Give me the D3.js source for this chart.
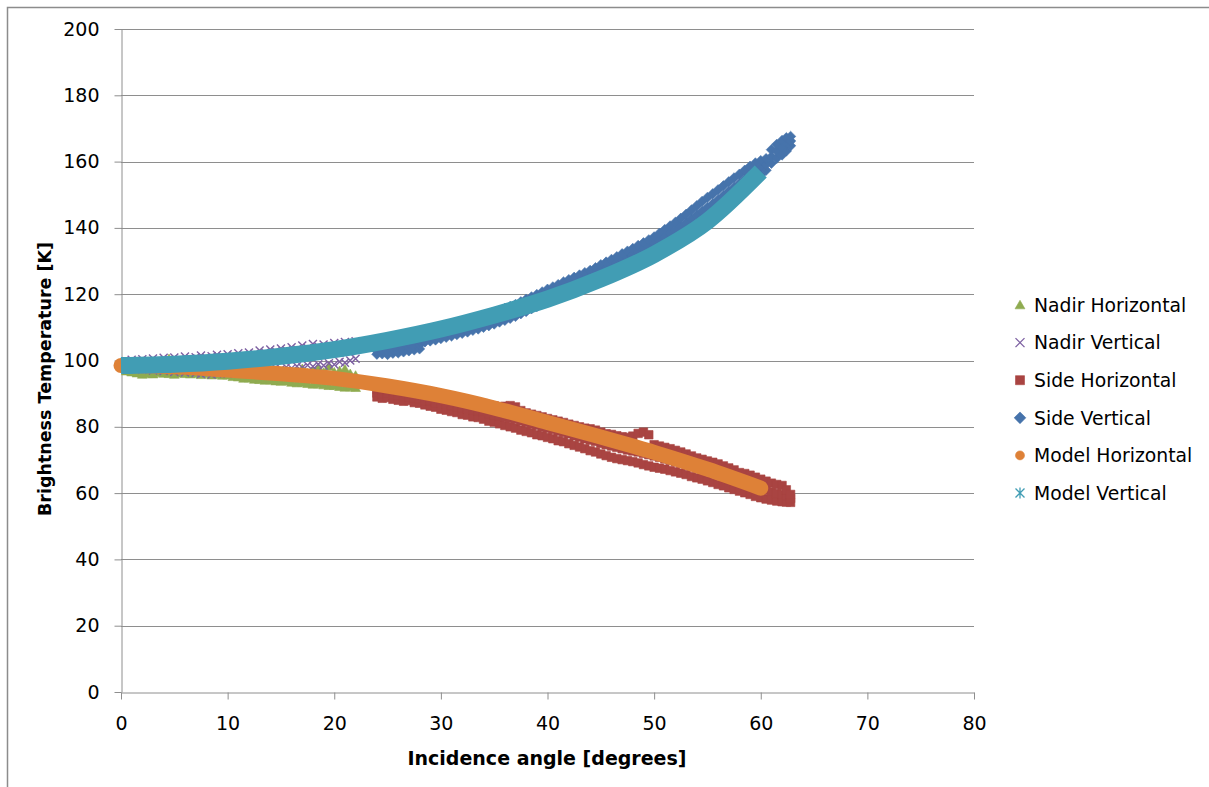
<!DOCTYPE html>
<html>
<head>
<meta charset="utf-8">
<script src="https://cdn.jsdelivr.net/npm/d3@7"></script>
<style>
  body { margin: 0; background: #fff; overflow: hidden; }
  svg { display: block; font-family: "DejaVu Sans", sans-serif; }
</style>
</head>
<body>
<svg width="1209" height="787"></svg>
<script>

var xTicks = [0, 10, 20, 30, 40, 50, 60, 70, 80];
var yTicks = [0, 20, 40, 60, 80, 100, 120, 140, 160, 180, 200];
var seriesNames = ["Nadir Horizontal", "Nadir Vertical", "Side Horizontal", "Side Vertical", "Model Horizontal", "Model Vertical"];
var xTitle = "Incidence angle  [degrees]";
var yTitle = "Brightness Temperature [K]";

// measured points, one row per angle: [angle, value, value, ...]
var nadirH = [
  [0.5, 96.8, 98.0], [1, 96.5, 97.8], [1.5, 96.2, 98.2], [2, 95.8, 97.5], [2.5, 96.0, 98.0],
  [3, 95.9, 97.6], [3.5, 96.3, 98.4], [4, 96.1, 99.0], [4.5, 96.0, 100.5], [5, 95.8, 99.2],
  [5.5, 96.2, 98.5], [6, 96.0, 99.8], [6.5, 95.9, 98.9], [7, 96.1, 98.2], [7.5, 95.7, 97.8],
  [8, 96.0, 98.5], [8.5, 95.6, 97.9], [9, 95.8, 97.6], [9.5, 95.5, 98.0], [10, 95.6, 97.4],
  [10.5, 95.1, 97.2], [11, 95.0, 97.5], [11.5, 94.6, 96.9], [12, 94.7, 97.1], [12.5, 94.3, 96.7],
  [13, 94.2, 96.8], [13.5, 94.0, 96.5], [14, 94.1, 96.3], [14.5, 93.8, 96.6], [15, 93.7, 96.2],
  [15.5, 93.8, 96.0], [16, 93.4, 96.4], [16.5, 93.2, 96.8], [17, 93.3, 97.5], [17.5, 93.0, 96.2],
  [18, 92.8, 97.0], [18.5, 92.9, 97.8], [19, 92.6, 96.4], [19.5, 92.4, 98.2], [20, 92.4, 96.5],
  [20.5, 92.1, 96.9], [21, 91.9, 97.4], [21.5, 92.0, 96.0], [22, 91.8, 95.5]
];

var nadirV = [
  [0.5, 98.0, 98.9, 99.8], [1, 97.5, 98.8, 100.2], [1.5, 97.8, 98.7, 99.6], [2, 97.2, 98.9, 100.4],
  [2.5, 97.6, 98.6, 99.9], [3, 97.0, 98.8, 100.6], [3.5, 97.4, 98.9, 100.1], [4, 96.8, 98.7, 100.8],
  [4.5, 97.2, 99.0, 100.3], [5, 96.5, 98.6, 100.9], [5.5, 97.0, 98.8, 100.4], [6, 96.4, 98.9, 101.2],
  [6.5, 96.8, 98.6, 100.6], [7, 96.2, 98.8, 101.0], [7.5, 95.9, 98.9, 101.5], [8, 96.3, 98.5, 100.8],
  [8.5, 95.8, 98.7, 101.3], [9, 96.1, 99.1, 101.7], [9.5, 96.4, 98.8, 101.1], [10, 96.0, 99.2, 101.9],
  [10.5, 96.6, 99.0, 101.4], [11, 96.3, 99.4, 102.2], [11.5, 96.9, 99.2, 101.6], [12, 96.5, 99.6, 102.4],
  [12.5, 97.2, 99.5, 102.0], [13, 96.8, 100.0, 103.0], [13.5, 97.5, 99.9, 102.4], [14, 97.1, 100.3, 103.3],
  [14.5, 97.8, 100.2, 102.8], [15, 97.4, 100.6, 103.6], [15.5, 98.0, 100.5, 103.1], [16, 97.7, 101.0, 104.0],
  [16.5, 98.3, 100.9, 103.4], [17, 97.9, 101.3, 104.5], [17.5, 98.6, 101.2, 103.8], [18, 98.2, 101.7, 105.0],
  [18.5, 98.9, 101.6, 104.2], [19, 98.5, 102.0, 104.8], [19.5, 99.2, 102.0, 104.4], [20, 98.8, 102.3, 105.3],
  [20.5, 99.6, 102.4, 104.7], [21, 99.3, 102.7, 105.6], [21.5, 100.0, 102.8, 105.1], [22, 100.5, 103.3, 105.8]
];

var sideH = [
  [24, 89.0, 90.2, 91.4], [24.5, 88.6, 89.9, 91.2], [25, 88.8, 90.0, 91.3], [25.5, 88.3, 89.6, 90.9],
  [26, 88.0, 89.4, 90.8], [26.5, 87.7, 89.1, 90.6], [27, 87.9, 89.0, 90.3], [27.5, 87.3, 88.7, 90.4],
  [28, 87.1, 88.5, 90.1], [28.5, 86.6, 88.0, 89.8], [29, 86.2, 87.8, 89.6], [29.5, 85.9, 87.4, 89.5],
  [30, 85.3, 87.1, 89.3], [30.5, 85.0, 86.8, 88.9], [31, 84.6, 86.4, 88.7], [31.5, 84.3, 86.0, 88.5],
  [32, 83.7, 85.7, 88.1], [32.5, 83.5, 85.4, 87.8], [33, 83.0, 85.1, 87.6], [33.5, 82.8, 84.7, 87.2],
  [34, 82.3, 84.4, 87.0], [34.5, 81.7, 84.0, 86.6], [35, 81.4, 83.6, 86.3], [35.5, 80.9, 83.2, 86.0],
  [36, 80.4, 82.9, 86.2], [36.5, 80.0, 82.6, 86.4], [37, 79.6, 82.3, 86.0], [37.5, 79.0, 81.8, 84.9],
  [38, 78.6, 81.3, 84.2], [38.5, 78.2, 80.9, 83.8], [39, 77.6, 80.5, 83.4], [39.5, 77.3, 80.0, 83.0],
  [40, 76.8, 79.6, 82.5], [40.5, 76.4, 79.2, 82.1], [41, 75.8, 78.7, 81.7], [41.5, 75.5, 78.3, 81.3],
  [42, 74.9, 77.9, 80.8], [42.5, 74.4, 77.3, 80.4], [43, 73.9, 76.9, 80.0], [43.5, 73.4, 76.4, 79.6],
  [44, 72.8, 76.0, 79.4], [44.5, 72.4, 75.6, 79.0], [45, 71.8, 75.0, 78.4], [45.5, 71.3, 74.6, 77.9],
  [46, 70.8, 74.2, 77.7], [46.5, 70.4, 73.8, 77.3], [47, 70.1, 73.4, 77.0], [47.5, 69.8, 73.0, 76.8],
  [48, 69.5, 72.7, 77.2], [48.5, 69.1, 72.4, 78.0], [49, 68.6, 72.0, 78.4], [49.5, 68.2, 71.6, 77.6],
  [50, 67.8, 71.2, 74.6], [50.5, 67.5, 70.8, 74.2], [51, 67.2, 70.3, 73.8], [51.5, 66.8, 69.9, 73.4],
  [52, 66.4, 69.5, 72.9], [52.5, 66.0, 69.0, 72.4], [53, 65.6, 68.6, 71.8], [53.5, 65.0, 68.1, 71.2],
  [54, 64.6, 67.7, 70.6], [54.5, 64.2, 67.2, 70.2], [55, 63.7, 66.7, 69.7], [55.5, 63.2, 66.3, 69.3],
  [56, 62.6, 65.8, 68.8], [56.5, 62.2, 65.3, 68.2], [57, 61.6, 64.8, 67.6], [57.5, 61.1, 64.3, 67.0],
  [58, 60.6, 63.6, 66.2], [58.5, 60.1, 63.0, 65.9], [59, 59.6, 62.4, 65.4], [59.5, 59.0, 61.8, 64.8],
  [60, 58.6, 61.3, 64.2], [60.5, 58.2, 60.8, 63.6], [61, 57.9, 60.3, 63.0], [61.5, 57.6, 59.9, 62.6],
  [62, 57.4, 59.6, 62.3], [62.4, 57.3, 59.2, 61.0], [62.8, 57.2, 58.4, 59.6]
];

var sideV = [
  [24, 101.9, 102.9, 103.9], [24.5, 102.0, 103.1, 104.1], [25, 101.8, 103.0, 104.3], [25.5, 102.2, 103.3, 104.2],
  [26, 102.3, 103.5, 104.6], [26.5, 102.6, 103.7, 104.8], [27, 102.9, 104.0, 105.3], [27.5, 103.2, 104.3, 105.6],
  [28, 103.5, 104.7, 105.9], [28.5, 105.6, 106.9, 108.2], [29, 105.9, 107.3, 108.8], [29.5, 106.2, 107.7, 109.2],
  [30, 106.6, 108.1, 109.7], [30.5, 107.0, 108.6, 110.1], [31, 107.4, 109.0, 110.6], [31.5, 107.8, 109.4, 111.0],
  [32, 108.2, 109.8, 111.4], [32.5, 108.6, 110.3, 111.9], [33, 109.1, 110.8, 112.4], [33.5, 109.5, 111.2, 112.9],
  [34, 110.0, 111.7, 113.4], [34.5, 110.5, 112.2, 113.9], [35, 111.0, 112.8, 114.6], [35.5, 111.6, 113.3, 115.1],
  [36, 112.1, 113.9, 115.7], [36.5, 112.7, 114.5, 116.3], [37, 113.3, 115.1, 116.9], [37.5, 114.1, 115.9, 117.7],
  [38, 114.8, 116.6, 118.5], [38.5, 115.6, 117.4, 119.2], [39, 116.3, 118.1, 119.9], [39.5, 117.1, 118.9, 120.7],
  [40, 117.8, 119.6, 121.5], [40.5, 118.5, 120.3, 122.2], [41, 119.2, 121.0, 122.9], [41.5, 119.9, 121.8, 123.7],
  [42, 120.6, 122.5, 124.4], [42.5, 121.3, 123.2, 125.1], [43, 122.0, 123.9, 125.8], [43.5, 122.8, 124.7, 126.5],
  [44, 123.5, 125.4, 127.2], [44.5, 124.3, 126.2, 128.0], [45, 125.1, 127.0, 128.9], [45.5, 125.8, 127.8, 129.7],
  [46, 126.6, 128.6, 130.5], [46.5, 127.4, 129.4, 131.3], [47, 128.2, 130.2, 132.2], [47.5, 129.0, 131.0, 133.0],
  [48, 129.8, 131.8, 133.8], [48.5, 130.6, 132.7, 134.7], [49, 131.4, 133.5, 135.5], [49.5, 132.3, 134.4, 136.4],
  [50, 133.2, 135.3, 137.3], [50.5, 134.1, 136.3, 138.4], [51, 135.0, 137.3, 139.5], [51.5, 135.9, 138.3, 140.6],
  [52, 136.9, 139.3, 141.7], [52.5, 137.9, 140.4, 142.9], [53, 138.9, 141.5, 144.1], [53.5, 140.0, 142.7, 145.4],
  [54, 141.0, 143.9, 146.7], [54.5, 142.1, 145.0, 148.0], [55, 143.2, 146.2, 149.2], [55.5, 144.3, 147.3, 150.3],
  [56, 145.5, 148.5, 151.5], [56.5, 146.7, 149.7, 152.7], [57, 148.0, 151.0, 153.9], [57.5, 149.3, 152.2, 155.1],
  [58, 150.6, 153.4, 156.2], [58.5, 151.9, 154.7, 157.4], [59, 153.3, 156.0, 158.6], [59.5, 154.7, 157.3, 159.6],
  [60, 156.0, 158.3, 160.3], [60.5, 157.4, 159.2, 160.9], [61, 159.5, 161.5, 163.6], [61.5, 161.0, 163.2, 165.2],
  [62, 162.0, 164.3, 166.4], [62.4, 163.2, 165.3, 167.2], [62.8, 164.8, 166.2, 167.6]
];

// model curves: [angle, value]
var modelH = [
  [0, 98.5], [5, 98.1], [10, 97.1], [15, 96.0], [20, 94.6], [25, 92.3], [30, 89.4],
  [35, 85.7], [40, 81.3], [45, 76.9], [50, 72.3], [55, 67.2], [60, 61.5]
];
var modelV = [
  [0, 98.5], [5, 98.9], [10, 99.8], [15, 101.3], [20, 103.3], [25, 106.1], [30, 109.5],
  [35, 113.7], [40, 118.5], [45, 124.6], [50, 132.0], [55, 142.0], [60, 157.0]
];

var colors = ["#8fab50", "#7d60a2", "#a94442", "#4673ab", "#de8137", "#419db4"];

var svg = d3.select("svg");
var x = d3.scaleLinear().domain([0, 80]).range([121, 974]);
var y = d3.scaleLinear().domain([0, 200]).range([692, 29]);

// chart frame: only top and left edges fall inside the picture
svg.append("path")
  .attr("d", "M7.5,787V7.5H1209")
  .attr("fill", "none").attr("stroke", "#8c8c8c").attr("stroke-width", 1.5);

// gridlines
svg.append("g").selectAll("line")
  .data(yTicks.filter(function(d) { return d > 0; }))
  .enter().append("line")
  .attr("x1", x(0)).attr("x2", x(80))
  .attr("y1", function(d) { return Math.round(y(d)) + 0.5; })
  .attr("y2", function(d) { return Math.round(y(d)) + 0.5; })
  .attr("stroke", "#8e8e8e").attr("stroke-width", 1);

function styleAxis(g) {
  g.select(".domain").attr("stroke", "#8e8e8e");
  g.selectAll(".tick line").attr("stroke", "#8e8e8e");
  g.selectAll(".tick text").attr("fill", "#000").style("font-size", "19px")
    .style("font-family", "'DejaVu Sans', sans-serif");
}

var yAxis = svg.append("g")
  .attr("transform", "translate(" + (x(0) + 0.5) + ",0)")
  .call(d3.axisLeft(y).tickValues(yTicks).tickSize(7).tickSizeOuter(0).tickPadding(15))
  .call(styleAxis);

var xAxis = svg.append("g")
  .attr("transform", "translate(0," + (y(0) + 0.5) + ")")
  .call(d3.axisBottom(x).tickValues(xTicks).tickSize(7).tickSizeOuter(0).tickPadding(17))
  .call(styleAxis);

// axis titles
svg.append("text")
  .attr("x", 547).attr("y", 765)
  .attr("text-anchor", "middle")
  .style("font-size", "19px").style("font-weight", "bold")
  .text(xTitle);

svg.append("text")
  .attr("transform", "translate(51,379) rotate(-90)")
  .attr("text-anchor", "middle")
  .style("font-size", "17.5px").style("font-weight", "bold")
  .text(yTitle);

// marker shapes
function markerPath(type, s) {
  var h = s / 2;
  if (type == "tri") return "M0," + (-h * 1.05) + "L" + h * 1.1 + "," + h * 0.85 + "L" + (-h * 1.1) + "," + h * 0.85 + "Z";
  if (type == "x") return "M" + (-h) + "," + (-h) + "L" + h + "," + h + "M" + (-h) + "," + h + "L" + h + "," + (-h);
  if (type == "square") return "M" + (-h) + "," + (-h) + "h" + s + "v" + s + "h" + (-s) + "Z";
  if (type == "diamond") return "M0," + (-h * 1.3) + "L" + h * 1.3 + ",0L0," + h * 1.3 + "L" + (-h * 1.3) + ",0Z";
  if (type == "circle") return d3.symbol(d3.symbolCircle, Math.PI * h * h)();
  if (type == "star") return "M" + (-h) + "," + (-h) + "L" + h + "," + h + "M" + (-h) + "," + h + "L" + h + "," + (-h) + "M0," + (-h * 1.2) + "L0," + h * 1.2;
}

function flatten(rows) {
  var pts = [];
  rows.forEach(function(r) {
    for (var i = 1; i < r.length; i++) pts.push({ x: r[0], y: r[i] });
  });
  return pts;
}

function drawScatter(rows, type, size, color) {
  var stroked = (type == "x" || type == "star");
  svg.append("g").selectAll("path")
    .data(flatten(rows))
    .enter().append("path")
    .attr("transform", function(d) { return "translate(" + x(d.x) + "," + y(d.y) + ")"; })
    .attr("d", markerPath(type, size))
    .attr("fill", stroked ? "none" : color)
    .attr("stroke", color)
    .attr("stroke-width", stroked ? 1.4 : 0.6);
}

drawScatter(nadirH, "tri", 9, colors[0]);
drawScatter(nadirV, "x", 8, colors[1]);
drawScatter(sideH, "square", 8.5, colors[2]);
drawScatter(sideV, "diamond", 8, colors[3]);

// model curves drawn as thick marker trails
var line = d3.line()
  .x(function(d) { return x(d[0]); })
  .y(function(d) { return y(d[1]); })
  .curve(d3.curveMonotoneX);

svg.append("path")
  .datum(modelH)
  .attr("d", line)
  .attr("fill", "none")
  .attr("stroke", colors[4])
  .attr("stroke-width", 15)
  .attr("stroke-linecap", "round");

svg.append("path")
  .datum(modelV)
  .attr("d", line)
  .attr("fill", "none")
  .attr("stroke", colors[5])
  .attr("stroke-width", 17)
  .attr("stroke-linecap", "butt");

// legend
var legendTypes = ["tri", "x", "square", "diamond", "circle", "star"];
var legend = svg.append("g").selectAll("g")
  .data(seriesNames)
  .enter().append("g")
  .attr("transform", function(d, i) { return "translate(1020," + (305 + i * 37.6) + ")"; });

legend.append("path")
  .attr("d", function(d, i) { return markerPath(legendTypes[i], 9); })
  .attr("fill", function(d, i) { return (i == 1 || i == 5) ? "none" : colors[i]; })
  .attr("stroke", function(d, i) { return colors[i]; })
  .attr("stroke-width", function(d, i) { return (i == 1 || i == 5) ? 1.3 : 0.6; });

legend.append("text")
  .attr("x", 14).attr("dy", "0.36em")
  .style("font-size", "18.8px")
  .text(function(d) { return d; });

</script>
</body>
</html>
